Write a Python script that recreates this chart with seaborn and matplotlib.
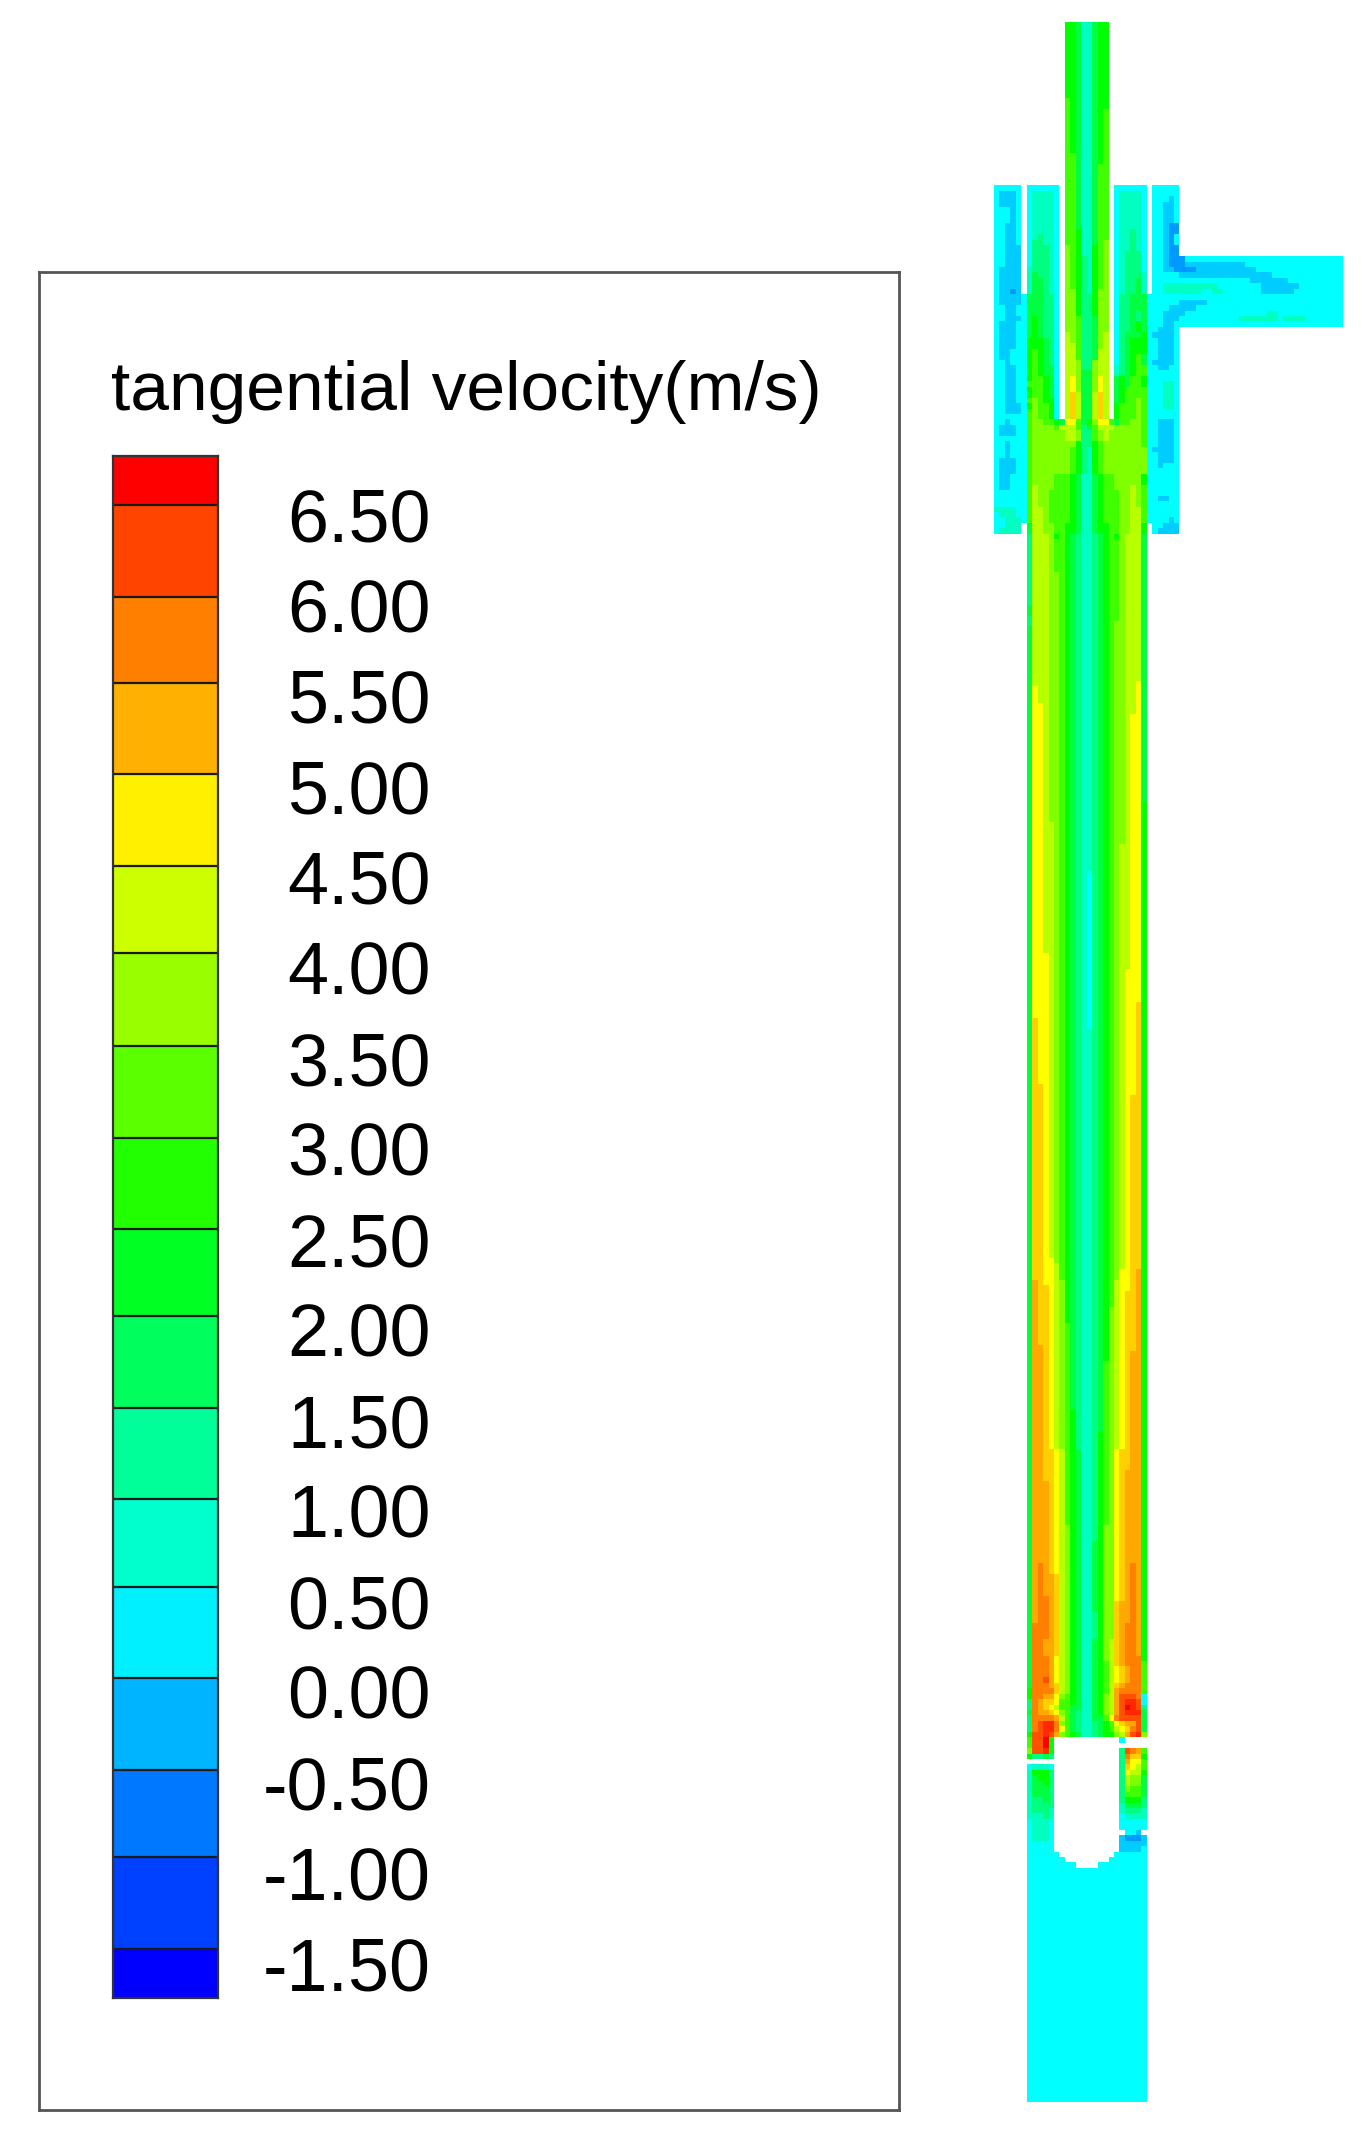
import re

import numpy as np
import matplotlib
matplotlib.use("Agg")
import matplotlib.pyplot as plt
from matplotlib.colors import ListedColormap
import seaborn as sns

# ---- legend data ----
legend_title = "tangential velocity(m/s)"
tick_values = [6.5, 6.0, 5.5, 5.0, 4.5, 4.0, 3.5, 3.0, 2.5, 2.0, 1.5, 1.0, 0.5, 0.0, -0.5, -1.0, -1.5]
legend_colors = ["#ff0000", "#ff4400", "#ff7f00", "#ffb000", "#fff000", "#ccff00", "#99ff00", "#5cff00", "#22ff00",
                 "#00ff22", "#00ff5c", "#00ff99", "#00ffcc", "#00f0ff", "#00b4ff", "#0078ff", "#0040ff", "#0000ff"]
# relative height of each legend band
legend_heights = [36, 67, 63, 67, 67, 64, 68, 67, 67, 64, 67, 67, 64, 67, 67, 64, 67, 36]

# ---- field data: level letters per column, "3c" means ccc, "." is outside the domain ----
field_letters = "abcdefghijklmnopq"
field_colors = ["#0099ff", "#00ccff", "#00ffff", "#00ffc0", "#00ff80", "#00ff40", "#00ff00", "#40ff00", "#80ff00",
                "#b8ff00", "#ffff00", "#ffd000", "#ffa800", "#ff8000", "#ff5000", "#ff2800", "#ff0000"]
n_rows, n_cols = 382, 64

# (first row, profile) and the last row each block stops at
center_pipe = [(0, "ggfddfgg"), (14, "hgfddfgg"), (16, "hgfddfgh"), (24, "hhfddfgh"), (26, "hhfddfhh"),
               (38, "hhgddfhh"), (40, "hhgddfhi"), (41, "ihgddghi"), (43, "ihgedghi"), (49, "iigedgii"),
               (50, "iigeegii"), (54, "iiheefii"), (57, "jiheefij"), (59, "jjheefij"), (60, "jjheefjj"),
               (62, "jjieeijj"), (64, "jjiffijj"), (65, "jkiffikj"), (68, "jljffjlj"), (73, None)]
annulus_left = [(30, "cccccc"), (31, "cddddc"), (39, "cdeddc"), (40, "ceeddc"), (41, "ceeedc"), (45, "deeedc"),
                (46, "dfeedc"), (47, "dffedc"), (50, "fffeec"), (54, "fgfeec"), (58, "gggfec"), (60, "ghgfec"),
                (63, "ghgffc"), (65, "ghhgfc"), (66, "hhhgfc"), (67, "ghhgfc"), (69, "hihggc"), (70, "gihhgc"),
                (71, "hihhgc"), (73, None)]
annulus_right = [(30, "cccccc"), (31, "cddddc"), (38, "cddedc"), (42, "cdeeec"), (46, "cdeeed"), (47, "cdeefd"),
                 (50, "ceefff"), (53, "ceefef"), (55, "ceefgf"), (57, "cefffg"), (58, "cefggg"), (61, "cefghf"),
                 (63, "defghh"), (65, "fgfhhg"), (67, "fghhhh"), (69, "fghhih"), (70, "ghhhih"), (73, None)]
jacket_left = [(30, "5c"), (31, "c3bc"), (34, "3cbc"), (37, "2c2bc"), (41, "2c3b"), (45, "c4b"), (49, "c2bab"),
               (50, "c4b"), (52, "2c2bc"), (54, "2c3b"), (55, "c3bc"), (60, "c2b2c"), (62, "2cb2c"), (63, "2c2bc"),
               (70, "2c3b"), (72, "5c"), (73, "2cb2c"), (74, "c3bc"), (76, "5c"), (77, "2cb2c"), (80, "c3bc"),
               (83, "c2b2c"), (86, "5c"), (89, "4dc"), (90, "c3dc"), (91, "2c3d"), (93, "c4d"), (94, None)]
jacket_right = [(30, "5c"), (32, "3cbc"), (33, "2c2bc"), (37, "2cb2a"), (39, "2cbac"), (41, "2cb2a"), (45, "2c2ba"),
                (46, "5c"), (48, "2c3d"), (50, "5c"), (52, "3c2b"), (53, "2c3b"), (55, "2c2bc"), (56, "c3bc"),
                (57, "4bc"), (58, "c3bc"), (62, "4bc"), (63, "c2b2c"), (64, "5c"), (66, "2c2dc"), (71, "5c"),
                (73, "c3bc"), (78, "4bc"), (79, "c3bc"), (81, "cb3c"), (82, "5c"), (87, "c2b2c"), (88, "5c"),
                (91, "3cbc"), (92, "2c3b"), (93, "c4b"), (94, None)]
jacket_link = [(50, "c"), (92, None)]
outlet = [(43, "a29c"), (44, "a11b18c"), (45, "3a11b16c"), (46, "17b13c"), (47, "13c7b10c"), (48, "7d8c7b8c"),
          (49, "4d2c2d7c6b9c"), (50, "30c"), (51, "5b25c"), (52, "3b27c"), (53, "b15c2d12c"), (54, "11c7dc4d7c"),
          (55, "30c"), (56, None)]
main_tube = [(73, "hiihhgfkkhfgikkhfhhiih"), (74, "hiiiihjjjhefhjjjiiiiih"), (75, "hiiiiiijjieehijiiiiiih"),
             (77, "hiiiiiiiigeeghiiiiiiih"), (78, "hiiiiiiihgedghiiiiiiii"), (83, "hiiiihhhgfddfghhiiiiig"),
             (85, "hjiiihhhgfddfghhiiijih"), (86, "hjiihhhhgfddfghhhiijih"), (89, "hjjihhhhgfddfghhhiijjh"),
             (92, "fjjiihhggfddfgghhiijjg"), (94, "ejjjighgfeddefghgijjjf"), (95, "ejjjihhgfeddefghhijjjf"),
             (101, "ejjjiihgfeddefghhijjjf"), (107, "fjjjiihgfeddefghhijjjf"), (109, "ejjjiihgfeddefghhijjjf"),
             (110, "ejjjiihgfeddefghiijjjf"), (111, "fjjjiihgfeddefghiijjjf"), (121, "fjjjiihgfeddefghiijjkf"),
             (122, "fkjjiihgfeddefghiijjkf"), (125, "fkkjiihgfeddefghiijjkf"), (127, "fkkjiihgfeddefghiijkkf"),
             (143, "fkkjiihgfeddefghiijkkg"), (147, "fkkjjihgfeddefghiijkkg"), (151, "fkkjjihgfeddefghijjkkg"),
             (156, "fkkjjihgfedcefghijjkkg"), (171, "fkkkjihgfedcefghijjkkg"), (174, "fkkkjihgfedcefghijkkkg"),
             (180, "fkkkjihgfedcefghijkklg"), (183, "flkkjihgfedcefghijkklg"), (185, "flkkjihgfeddefghijkklg"),
             (195, "fllkjihgfeddefghijkklg"), (197, "fllkjihgfeddefghijkllg"), (227, "fllkkihgfeddefghijkllg"),
             (228, "fllkkjhgfeddefghijkllg"), (229, "fllkkjhgfeddefghikklmg"), (231, "fmlkkjigfeddefghjkklmg"),
             (232, "fmllkjigfeddefghjkklmg"), (233, "fmllkjigfeddefghjkllmg"), (236, "fmllkjigfeddefgijkllmg"),
             (239, "fmllkjihfeddefgijkllmg"), (243, "fmmlkjihfeddefgijkllmg"), (244, "fmmlkjihfeddefgijklmmg"),
             (246, "fmmlkjihfeddefhijklmmg"), (255, "fmmlkjihgeddefhijklmmg"), (259, "fmmlkjihgeddeghijklmmg"),
             (262, "fmmllkjhgfddeghikllmmg"), (266, "fmmllkjhgfddeghiklmmmg"), (268, "fmmmlkjhgfddeghiklmmmg"),
             (276, "fmmmlkjigfddegiiklmmmg"), (279, "fmmmlkjigfddfgiiklmmmg"), (283, "fmnmlkjigfddfgiiklmnmg"),
             (285, "fmnmmljigfddfgiiklmnmg"), (289, "fmnnmljigfddfgiiklmnmg"), (290, "fmnnmljigfddfgiilmmnmg"),
             (292, "fmnnmljigfddegiilmmnmg"), (294, "fnnnmljigfddegiilmnnmg"), (297, "fnnmmljigfddfgijlmnnmg"),
             (300, "fnnnmkjigfddfgijlmnnng"), (301, "fnnnmkjigfddfghjlmnnnh"), (302, "fnnnmkjigfddfghjklmnnh"),
             (304, "fnnomkjigfddfghjklmnnh"), (305, "fnnnmljigfddfghjlmnnnh"), (306, "gnnnnljigfddfghjmnnnnh"),
             (307, "gnnmmkihgfddfgijmooonc"), (308, "enmllkhhgfddfgijmoppoc"), (309, "enmlkjhhffddfgijmoqpoe"),
             (310, "fnmmlkihfeddfgijmopppf"), (311, "ennnnmjhfeddffhknoooof"), (312, "enoppnihfeddefghklmmof"),
             (313, "enoppnkhfeddefghjklnof"), (314, "goopomihgfddefggijmopi"), (315, "hooqg12.c4."),
             (316, "hooqg17."), (317, "ioopg12.eonmh"), (318, "geefe12.enllg"), (319, "17.emkkh"),
             (320, "c3dc12.elkjh"), (321, "d3ge12.ekjjg"), (322, "df2ge12.ejiif"), (323, "d2fge12.ejiif"),
             (324, "d3fe12.eihhf"), (325, "d3fe12.e3hf"), (326, "d2efe12.e3ge"), (327, "d4e12.d3fe"),
             (328, "d3ed12.d3ed"), (329, "3ded12.c4d"), (330, "c3dc12.5c"), (332, "c3dc12..2cb."),
             (333, "c3dc12.b3ab"), (334, "5c12.5b"), (335, "5c12.4bc"), (336, "6c10.6c"), (337, "7c8.7c"),
             (338, "9c4.9c"), (339, "22c"), (382, None)]

# column where each block starts
blocks = [(jacket_left, 0), (jacket_link, 5), (annulus_left, 6), (center_pipe, 13), (annulus_right, 22),
          (jacket_link, 28), (jacket_right, 29), (outlet, 34), (main_tube, 6)]


def expand(text):
    return re.sub(r"(\d+)(\D)", lambda m: m[2] * int(m[1]), text)


grid = np.full((n_rows, n_cols), np.nan)
for bands, first_col in blocks:
    for (start, text), (stop, _) in zip(bands[:-1], bands[1:]):
        cells = expand(text)
        values = [np.nan if c == "." else field_letters.index(c) for c in cells]
        grid[start:stop, first_col:first_col + len(values)] = values

W, H = 1372, 2144
plt_dpi = 100

sns.set_theme(style="white")
plt.rcParams["font.family"] = ["Liberation Sans", "DejaVu Sans"]

fig = plt.figure(figsize=(W / plt_dpi, H / plt_dpi), dpi=plt_dpi, facecolor="white")


def place(left, top, right, bottom):
    return fig.add_axes([left / W, 1 - bottom / H, (right - left) / W, (bottom - top) / H])


# contour field on the right
ax_field = place(994, 22, 1343, 2102)
sns.heatmap(grid, mask=np.isnan(grid), cmap=ListedColormap(field_colors), vmin=-0.5, vmax=16.5,
            cbar=False, xticklabels=False, yticklabels=False, ax=ax_field)
ax_field.axis("off")

# legend frame
ax_box = place(39, 272, 899, 2110)
ax_box.set_xticks([])
ax_box.set_yticks([])
for spine in ax_box.spines.values():
    spine.set_color("#555555")
    spine.set_linewidth(2.0)
ax_box.text(72 / 860, 1 - 138 / 1838, legend_title, fontsize=50, color="black", ha="left", va="baseline",
            transform=ax_box.transAxes)

# legend bar: one heatmap row per height unit, so the bands keep their read heights
level_ids = np.arange(len(legend_colors))
bar = np.repeat(level_ids, legend_heights).reshape(-1, 1)
ax_bar = place(113, 456, 218, 1998)
sns.heatmap(bar, cmap=ListedColormap(legend_colors), vmin=-0.5, vmax=len(legend_colors) - 0.5, cbar=False,
            xticklabels=False, yticklabels=False, ax=ax_bar)
boundaries = np.cumsum(legend_heights)[:-1]
ax_bar.hlines(boundaries, 0, 1, color="#1a1a1a", linewidth=1.6)
for spine in ax_bar.spines.values():
    spine.set_visible(True)
    spine.set_color("#333333")
    spine.set_linewidth(1.6)

# labels are evenly spaced, they do not follow the uneven band edges
ax_bar.yaxis.tick_right()
ax_bar.set_yticks(43 + 66.3 * np.arange(len(tick_values)))
ax_bar.set_yticklabels([f"{v:.2f}" for v in tick_values], fontsize=53, color="black", ha="right", rotation=0)
ax_bar.tick_params(axis="y", length=0, pad=(431 - 218) * 72 / plt_dpi)

fig.savefig("out.png", dpi=plt_dpi)
